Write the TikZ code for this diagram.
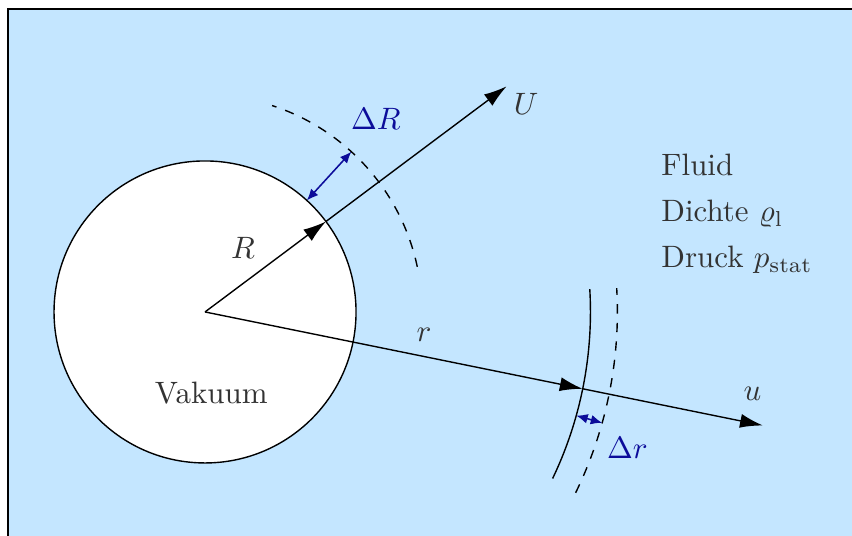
\documentclass[tikz,border=0pt]{standalone}
\usepackage{amsmath}
\usetikzlibrary{arrows.meta, calc}
\definecolor{fluidBlue}{HTML}{C4E6FF}
\definecolor{deltaBlue}{HTML}{0C0C9A}
\definecolor{txtGrey}{HTML}{333333}
\tikzset{
  vecline/.style  = {-{Latex[length=2.6mm, width=1.6mm]}, line width=0.45pt, black},
  dvec/.style     = {{Latex[length=1.3mm, width=1.1mm]}-{Latex[length=1.3mm, width=1.1mm]},
                     line width=0.5pt, deltaBlue},
  shell/.style    = {line width=0.45pt, black},
  lbl/.style      = {txtGrey},
  dlbl/.style     = {deltaBlue},
  flbl/.style     = {txtGrey, anchor=base west, inner sep=0pt},
}

\begin{document}
\begin{tikzpicture}
  \useasboundingbox (-2.33,-2.545) rectangle (7.352,3.545);
  % fluid all round the bubble
  \fill[fluidBlue] (-2.24,-3) rectangle (8,3.44);
  \draw[line width=0.6pt] (-2.24,-3) -- (-2.24,3.44) -- (8,3.44);
  \coordinate (M) at (0,0);
  \draw[shell, fill=white] (M) circle (1.716);
  \node[lbl] (vak) at (0.07,-0.92) {Vakuum};
  % bubble wall R moving with U
  \coordinate (Rwall) at (36.8:1.716);
  \coordinate (Utip)  at (36.8:4.28);
  \draw[vecline] (M) -- (Rwall);
  \draw[vecline] (Rwall) -- (Utip);
  \node[lbl] (Rlbl) at (0.43,0.73) {$R$};
  \node[lbl] (Ulbl) at (3.65,2.36) {$U$};
  \draw[shell, dashed] (12:2.466) arc[start angle=12, end angle=72, radius=2.466];
  \coordinate (dRa) at (47.6:1.716);
  \coordinate (dRb) at (47.6:2.466);
  \draw[dvec] (dRa) -- (dRb);
  \node[dlbl] (dRlbl) at (1.94,2.19) {$\Delta R$};
  % fluid shell at r moving with u
  \coordinate (rshell) at (-11.5:4.38);
  \coordinate (utip)   at (-11.5:6.47);
  \draw[vecline] (M) -- (rshell);
  \draw[vecline] (rshell) -- (utip);
  \node[lbl] (rlbl) at (2.49,-0.26) {$r$};
  \node[lbl] (ulbl) at (6.22,-0.93) {$u$};
  \draw[shell] (-25.6:4.38) arc[start angle=-25.6, end angle=3.4, radius=4.38];
  \draw[shell, dashed] (-26:4.686) arc[start angle=-26, end angle=3.3, radius=4.686];
  \coordinate (dra) at (-15.6:4.38);
  \coordinate (drb) at (-15.6:4.686);
  \draw[dvec] (dra) -- (drb);
  \node[dlbl] (drlbl) at (4.80,-1.55) {$\Delta r$};
  % properties of the fluid
  \node[flbl] (fluid)  at (5.18,1.545) {Fluid};
  \node[flbl] (dichte) at (5.18,1.026) {Dichte $\varrho_\text{l}$};
  \node[flbl] (druck)  at (5.18,0.503) {Druck $p_\text{stat}$};
\end{tikzpicture}
\end{document}
